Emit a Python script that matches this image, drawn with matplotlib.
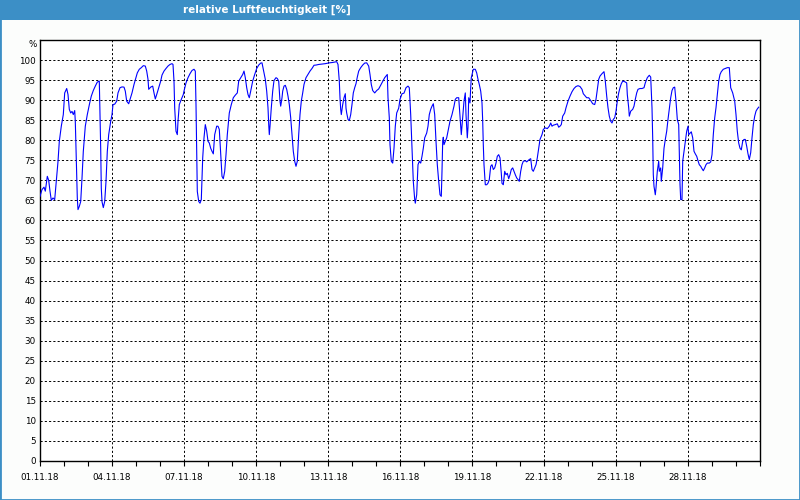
"""
Relative humidity, November 2018 - line chart in the style of a
weather-station export (blue title bar, dashed black grid).
"""

import numpy as np
import matplotlib

matplotlib.use("Agg")
import matplotlib.pyplot as plt
import matplotlib.dates as mdates
import matplotlib.transforms as mtransforms
from matplotlib.patches import Rectangle


# ---------------------------------------------------------------------------
# Data: hours since 01.11.18 00:00 and relative humidity in %
# (split in 6-day blocks)
# ---------------------------------------------------------------------------

h1 = [0, 2, 4, 5.3, 7.3, 8.7, 10, 11.3, 13, 14.7, 16.3, 18, 19.3, 21.3, 23.3,
      24.7, 26.7, 28, 29.3, 30.7, 32, 33.3, 34.7, 35.3, 36.3, 37.3, 38, 39.3,
      40.7, 42, 43.3, 45.3, 47.3, 49.7, 51.3, 53.3, 55.3, 57.3, 59.3, 60, 60.7,
      61.3, 62, 63.3, 64.7, 66, 67.3, 68.7, 70.7, 72, 73, 74.7, 76.7, 78, 80,
      82, 84, 85.3, 86.7, 88.7, 90, 92, 94, 96, 97.3, 99.3, 101.3, 103.3,
      105.3, 106.7, 108, 108.7, 110.7, 112.7, 114, 115.3, 116.7, 118.7, 120.7,
      122, 124, 126, 128, 130, 132, 133, 134, 134.7, 136, 137.3, 138, 139.3,
      141.3, 143.3]
rh1 = [66, 67.7, 68.3, 67.3, 71, 70, 67.3, 65, 65.6, 65.2, 69.7, 74.7, 79.7,
       83.5, 86.4, 91.8, 92.9, 91.4, 87.7, 86.8, 87.2, 86.4, 87.4, 84.7, 74.7,
       65.6, 62.7, 63.5, 64.7, 70.5, 77.2, 83.5, 86.4, 89.3, 91, 92.4, 93.5,
       94.5, 94.75, 86.4, 78, 68, 64.7, 63.2, 64.7, 69.7, 77.2, 81.4, 84.7,
       86.4, 88.9, 89, 89.75, 91.8, 93.1, 93.3, 93.25, 92.25, 89.75, 89.1,
       90.2, 91.8, 93.9, 95.6, 96.8, 97.7, 98.1, 98.6, 98.5, 97.25, 95.2, 92.7,
       93.25, 93.5, 91.8, 90.3, 91.4, 93.1, 94.75, 96.25, 97.25, 97.9, 98.5,
       98.9, 99.1, 98.9, 94.75, 88, 82.25, 81.4, 84.7, 88.9, 90.2, 91.4]

h2 = [144, 146, 148, 150, 152, 154, 155.3, 156, 156.7, 157.3, 158.7, 160,
      161.3, 162.7, 164, 165.3, 166.7, 168, 169.3, 170.7, 172, 173.3, 174.7,
      176.7, 178, 179.3, 180.7, 182, 183.3, 184.7, 186, 187.3, 189.3, 191.3,
      193.3, 195.3, 197.3, 198.7, 200.7, 202.7, 204, 205.3, 206.7, 208, 209.3,
      210.7, 212.7, 214.7, 216.7, 218.7, 220.7, 222, 223.3, 225.3, 226.7, 228,
      228.7, 229.3, 230, 231.3, 232.7, 234, 236, 237.3, 238.7, 239.3, 240,
      240.7, 242, 242.7, 244, 245.3, 246.7, 248, 249.3, 250.7, 252, 253.3,
      254.7, 256, 257.3, 258.7, 260, 261.3, 262.7, 264, 266, 268, 270, 272,
      274, 276, 278.7, 282, 285.3]
rh2 = [92.25, 94.3, 95.6, 96.6, 97.4, 97.7, 97.25, 88.9, 78, 67.25, 64.75,
       64.3, 65.2, 75.6, 80.6, 83.9, 82.25, 79.75, 79.3, 78, 77.25, 76.6, 81.4,
       83.5, 83.5, 82.7, 76.4, 71, 70.4, 72.25, 76.4, 81.4, 86.8, 88.9, 90.6,
       91.25, 91.8, 94.75, 95.6, 96.4, 97.25, 95.6, 93.1, 91.4, 90.6, 92.25,
       94.75, 96.4, 97.9, 98.75, 99.25, 99.3, 97.7, 95.2, 92.25, 88.1, 84,
       81.4, 83.5, 88.1, 92.25, 94.9, 95.6, 95.4, 94.75, 92.25, 89.75, 88.5,
       90.6, 92.25, 93.5, 93.7, 92.7, 91, 88.9, 85.6, 81.4, 77.25, 74.75, 73.5,
       74.75, 81.4, 86.4, 89.75, 91.8, 93.9, 95.6, 96.4, 97.25, 97.9, 98.7,
       98.75, 98.9, 99, 99.1]

h3 = [289.3, 292.7, 296.7, 298, 299.3, 300, 300.7, 301.3, 302.7, 304, 305.3,
      306, 306.7, 308, 309.3, 310.7, 312, 313.3, 314.7, 316, 317.3, 318.7,
      320.7, 322.7, 324.7, 326.7, 328.7, 330, 331.3, 332.7, 334.7, 336.7,
      338.7, 340.7, 342.7, 344.7, 346.7, 347.3, 348, 349.3, 350, 351.3, 352.7,
      354, 355.3, 356.7, 358.7, 360, 362, 364, 366, 368, 369.3, 370.7, 372,
      373.3, 374.7, 375.3, 376.7, 378, 379.3, 380.7, 382, 383.3, 384.7, 386.7,
      388, 389.3, 390.7, 392, 393.3, 394.7, 396, 397.3, 398.7, 400, 401.3, 402,
      402.7, 403.3, 404, 405.3, 406.7, 408, 410, 412, 414, 415.3, 416.7, 418.7,
      420, 421.3, 422.7, 424, 425.3, 426, 426.7, 427.3, 428, 428.7, 430,
      430.7, 431.3]
rh3 = [99.3, 99.4, 99.6, 98.9, 94.75, 90.6, 87.7, 86.4, 88.9, 90.6, 91.6, 88,
       86.8, 85.2, 84.9, 86.4, 88.9, 91.8, 93.1, 94.1, 95.75, 97.25, 98.1,
       98.75, 99.25, 99.3, 98.5, 96.4, 93.9, 92.4, 91.8, 92.4, 92.8, 93.75,
       94.75, 95.6, 96.25, 96.4, 90.6, 85.6, 78.9, 74.75, 74.3, 78, 83.5, 86.8,
       88, 90.2, 91.6, 91.75, 93.1, 93.5, 93.1, 86.4, 78, 69.75, 65.2, 64.3,
       66.4, 73.9, 74.75, 74.3, 76, 78, 80.6, 81.8, 83.5, 86.4, 87.7, 88.5,
       89.1, 86.4, 79.75, 73.9, 69.75, 66.4, 66, 72.25, 79.75, 80.75, 78.9,
       79.75, 80.6, 82.25, 84.75, 86.4, 88.5, 90.2, 90.6, 90.6, 86, 81.4, 85.6,
       89.75, 91.8, 86.4, 83.5, 80.6, 83.25, 90.6, 89.3, 93.1, 95.6]

h4 = [433.3, 435.3, 436.7, 438, 439.3, 440.7, 442, 442.7, 443.3, 444, 444.7,
      445.3, 446.7, 448, 449.3, 450.7, 452, 453.3, 454.7, 456, 457.3, 458.7,
      460, 461.3, 462, 463.3, 464.7, 466, 467.3, 468.7, 470, 471.3, 472.7, 474,
      475.3, 476.7, 478, 479.3, 480.7, 482, 483.3, 485.3, 486.7, 488, 489.3,
      490.7, 492, 493.3, 494.7, 496, 497.3, 498.7, 500, 502, 503.3, 505.3,
      507.3, 509.3, 510.7, 512, 513.3, 515.3, 517.3, 518.7, 520, 521.3, 522.7,
      524.7, 526, 528, 530, 532, 534, 536, 538, 540, 542, 543.3, 545.3, 546.7,
      548.7, 550.7, 552.7, 554.7, 556, 557.3, 558.7, 560, 562, 564, 565.3,
      566.7, 568, 569.3, 570.7, 572, 573.3, 574.7]
rh4 = [97.7, 97.7, 96.8, 95.2, 93.9, 92.25, 89.3, 84.75, 78.9, 73.9, 71.4,
       68.9, 68.9, 69.3, 70.2, 73.5, 73.9, 72.7, 73.1, 74.3, 76, 76.4, 75.6,
       71.75, 69.25, 68.9, 72.25, 71.4, 71.75, 70.4, 71.4, 72.7, 73.1, 72.25,
       71.4, 70.6, 70.2, 69.75, 72.25, 73.9, 74.75, 74.9, 74.6, 74.9, 75.2,
       75.4, 72.7, 72.25, 73.1, 73.9, 75.6, 78, 80.2, 81.4, 82.7, 83.1, 82.9,
       83.5, 84.3, 83.5, 83.75, 83.9, 84.1, 83.25, 83.5, 83.9, 86, 86.8, 88.1,
       89.75, 91, 92.1, 92.9, 93.4, 93.6, 93.4, 92.7, 91.6, 91, 90.6, 90.6,
       89.9, 89.1, 88.9, 90.2, 92.7, 95.2, 96, 96.6, 97.1, 94.75, 91, 88.1, 86,
       84.75, 84.3, 85.2, 85.6]

h5 = [576, 577.3, 578.7, 580, 581.3, 582.7, 584.7, 586.7, 587.3, 588.7, 589.3,
      590.7, 592.7, 594, 595.3, 596.7, 598, 600, 602, 604, 605.3, 607.3, 609.3,
      610.7, 612, 612.7, 613.3, 614, 615.3, 616, 617.3, 618.7, 619.3, 620.7,
      621.3, 622.7, 624, 625.3, 626.7, 628, 629.3, 630.7, 632, 633.3, 634.7,
      636, 636.7, 637.3, 638.7, 639.3, 640, 640.7, 642, 642.7, 644, 645.3,
      646.7, 648, 648.7, 650, 651.3, 652.7, 654, 655.3, 656.7, 658, 659.3,
      660.7, 662, 663.3, 664.7, 666, 667.3, 669.3, 670.7, 672, 673.3, 674.7,
      676, 677.3, 678.7, 680, 681.3, 683.3, 685.3, 687.3, 689.3, 690.7, 692.7,
      694.7, 696, 697.3, 698.7, 700, 701.3, 702.7, 704, 705.3, 706.7, 708,
      709.3, 710.7, 712, 713.3, 714.7, 716, 717.3, 718.7]
rh5 = [87.25, 89.75, 91.8, 93.1, 94.1, 94.75, 94.6, 94.3, 91.4, 88.1, 86,
       87.25, 87.7, 88.5, 90.2, 91.8, 92.7, 92.9, 92.9, 93.1, 94.3, 95.6, 96.2,
       95.75, 88.1, 80.6, 71.4, 68.5, 66.4, 68.1, 72.25, 74.75, 72.25, 73.1,
       69.75, 73.1, 78, 80.2, 82.25, 85.2, 87.7, 90.6, 92.4, 93.1, 93.25,
       89.75, 87.25, 85.2, 83.9, 76.4, 69, 65.2, 65.2, 74.75, 77.25, 79.75,
       82.25, 83.5, 81.4, 81.75, 82.1, 80.6, 77.25, 76.6, 76, 74.9, 73.9, 73.5,
       72.9, 72.4, 73.1, 73.9, 74.3, 74.3, 74.6, 76.4, 81.4, 85.6, 88.1, 91.4,
       94.75, 96.4, 97.1, 97.7, 97.9, 98.1, 98.1, 93.1, 91.8, 89.75, 86.4,
       82.25, 79.3, 78, 77.6, 79.75, 80.2, 80.2, 78.5, 76.6, 75.2, 76.9, 80.6,
       83.9, 86, 87.25, 87.8, 88.25]

TITLE      = "relative Luftfeuchtigkeit [%]"
UNIT       = "%"
START      = np.datetime64("2018-11-01T00:00")
N_DAYS     = 30
LABEL_STEP = 3          # days between labelled ticks
Y_TICKS    = list(range(0, 101, 5))

BAR_BLUE  = "#3c8fc6"
LINE_BLUE = "#0000ff"
TICK_FS   = 6.3


# ---------------------------------------------------------------------------
# Build series
# ---------------------------------------------------------------------------

hours = np.concatenate([h1, h2, h3, h4, h5])
rh    = np.concatenate([rh1, rh2, rh3, rh4, rh5])
times = START + np.round(hours * 60).astype(int).astype("timedelta64[m]")

day_ticks   = START + np.arange(N_DAYS + 1).astype("timedelta64[D]")
label_ticks = START + np.arange(0, N_DAYS, LABEL_STEP).astype("timedelta64[D]")


# ---------------------------------------------------------------------------
# Figure
# ---------------------------------------------------------------------------

fig = plt.figure(figsize=(8, 5), dpi=100, facecolor="#fcfdfc")

# title bar + window border
fig.patches.append(Rectangle((0, 0.96), 1, 0.04, transform=fig.transFigure,
                             facecolor=BAR_BLUE, edgecolor="none", zorder=0))
fig.patches.append(Rectangle((0, 0), 1, 1, transform=fig.transFigure,
                             fill=False, edgecolor=BAR_BLUE, linewidth=2.0,
                             zorder=5))
fig.text(0.334, 0.98, TITLE, color="white", fontsize=7.5, fontweight="bold",
         ha="center", va="center",
         family=["Liberation Sans Narrow", "DejaVu Sans"])

ax = fig.add_axes([0.05, 0.078, 0.90, 0.842])
ax.set_facecolor("white")

ax.plot(mdates.date2num(times), rh, color=LINE_BLUE, linewidth=0.8, zorder=3)

ax.set_xlim(mdates.date2num(START),
            mdates.date2num(START + np.timedelta64(N_DAYS, "D")))
ax.set_ylim(0, 105)

ax.set_xticks(mdates.date2num(label_ticks))
ax.set_xticks(mdates.date2num(day_ticks), minor=True)
ax.xaxis.set_major_formatter(mdates.DateFormatter("%d.%m.%y"))
ax.set_yticks(Y_TICKS)

ax.grid(True, which="major", color="black", linestyle=(0, (2.2, 2.2)),
        linewidth=0.7, zorder=1)

ax.tick_params(axis="x", which="both", direction="out", length=3.5,
               width=0.8, labelsize=TICK_FS, pad=5)
ax.tick_params(axis="y", which="both", length=0, labelsize=TICK_FS, pad=3)

for spine in ax.spines.values():
    spine.set_color("black")
    spine.set_linewidth(1.0)

# unit label above the y tick labels
trans = mtransforms.blended_transform_factory(ax.transAxes, ax.transData)
ax.text(-0.0045, 104, UNIT, transform=trans, ha="right", va="center",
        fontsize=TICK_FS)

fig.savefig("out.png", dpi=100, facecolor=fig.get_facecolor())
